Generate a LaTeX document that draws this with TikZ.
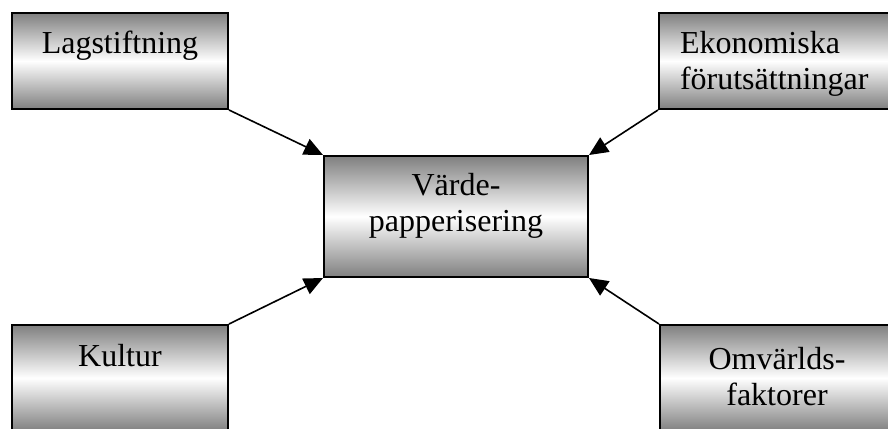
\documentclass[tikz,border=0pt]{standalone}
\usepackage{fontspec}
\setmainfont{Liberation Serif}
\usepackage{tikz}
\usetikzlibrary{arrows.meta}

\begin{document}
\begin{tikzpicture}[
        x=0.5pt, y=-0.5pt,                 % Unidades de 0.5pt, eje y hacia abajo
        block/.style={
            rectangle,
            draw=black,
            line width=1pt,
            top color=gray,
            bottom color=gray,
            middle color=white,            % Degradado gris-blanco-gris
            inner sep=0pt,
            anchor=north west,
            align=center,
            font=\fontsize{16}{18.4}\selectfont
        },
        line/.style={
            draw,
            -{Triangle[length=9.5pt, width=8.5pt]},
            line width=0.8pt
        }
    ]
    \clip (0,0) rectangle (888,428);

    % --- NODOS ---
    \node [block, text width=108pt, text height=20pt, text depth=28pt] (lag) at (11,12) {Lagstiftning};

    \node [block, align=left, inner xsep=10.5pt, text width=100pt, text height=20pt, text depth=28pt] (eko) at (658,12) {
        Ekonomiska \\ förutsättningar
    };

    \node [block, text width=132pt, text height=19.5pt, text depth=41pt] (mid) at (323,155) {
        Värde- \\ papperisering
    };

    \node [block, text width=108pt, text height=20.5pt, text depth=32.5pt] (kul) at (11,324) {Kultur};

    \node [block, text width=117pt, text height=22pt, text depth=31pt] (omv) at (659,324) {
        Omvärlds- \\ faktorer
    };

    % --- ENLACES ---
    \path [line] (lag.south east) -- (mid.north west);
    \path [line] (eko.south west) -- (mid.north east);
    \path [line] (kul.north east) -- (mid.south west);
    \path [line] (omv.north west) -- (mid.south east);
\end{tikzpicture}
\end{document}
